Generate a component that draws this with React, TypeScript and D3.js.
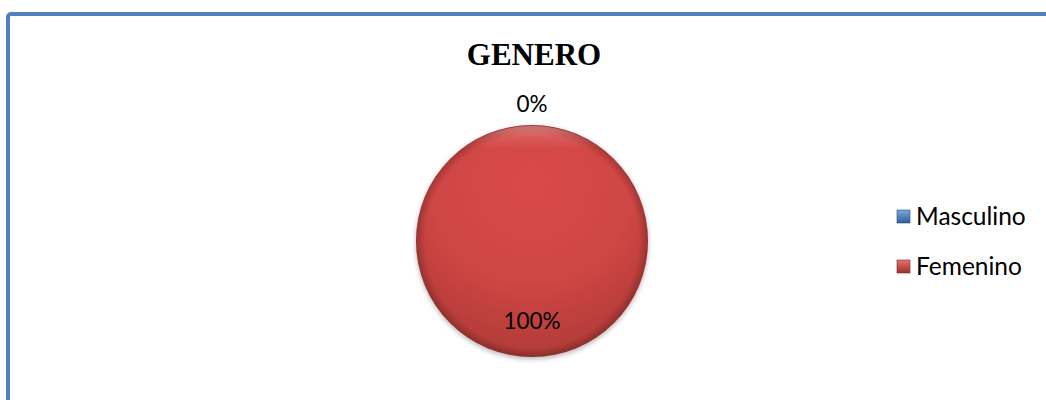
import React, { useEffect, useRef } from 'react'
import * as d3 from 'd3'

const categories = ['Masculino', 'Femenino']
const values = [0, 100]
const labels = ['0%', '100%']
const colors = ['#4f81bd', '#c0504d']

export default function App() {
  const svgRef = useRef<SVGSVGElement>(null)

  useEffect(() => {
    const svg = d3.select(svgRef.current)
    svg.selectAll('*').remove()

    const width = 1046
    const height = 400
    const cx = 532
    const cy = 241
    const r = 116

    const defs = svg.append('defs')

    // bevel look for the slices (coords are in the pie group's space)
    const grad = defs.append('radialGradient')
      .attr('id', 'pieFill')
      .attr('gradientUnits', 'userSpaceOnUse')
      .attr('cx', 0).attr('cy', -60).attr('r', r * 1.6)
    grad.append('stop').attr('offset', '0%').attr('stop-color', '#d94a48')
    grad.append('stop').attr('offset', '55%').attr('stop-color', '#cf4644')
    grad.append('stop').attr('offset', '100%').attr('stop-color', '#ad3936')

    const rim = defs.append('radialGradient')
      .attr('id', 'rim')
      .attr('gradientUnits', 'userSpaceOnUse')
      .attr('cx', 0).attr('cy', 0).attr('r', r)
    rim.append('stop').attr('offset', '92%').attr('stop-color', '#000').attr('stop-opacity', 0)
    rim.append('stop').attr('offset', '100%').attr('stop-color', '#000').attr('stop-opacity', 0.22)

    const hl = defs.append('linearGradient')
      .attr('id', 'hl').attr('x1', 0).attr('y1', 0).attr('x2', 0).attr('y2', 1)
    hl.append('stop').attr('offset', '0%').attr('stop-color', '#fff').attr('stop-opacity', 0.3)
    hl.append('stop').attr('offset', '5%').attr('stop-color', '#fff').attr('stop-opacity', 0.1)
    hl.append('stop').attr('offset', '10%').attr('stop-color', '#fff').attr('stop-opacity', 0)

    const shadow = defs.append('filter').attr('id', 'shadow')
      .attr('x', '-20%').attr('y', '-20%').attr('width', '140%').attr('height', '140%')
    shadow.append('feDropShadow').attr('dx', 0).attr('dy', 2).attr('stdDeviation', 2.5)
      .attr('flood-color', '#000').attr('flood-opacity', 0.3)

    const legGradBlue = defs.append('linearGradient')
      .attr('id', 'legBlue').attr('x1', 0).attr('y1', 0).attr('x2', 0).attr('y2', 1)
    legGradBlue.append('stop').attr('offset', '0%').attr('stop-color', '#7aa6dc')
    legGradBlue.append('stop').attr('offset', '100%').attr('stop-color', '#2f5f9a')
    const legGradRed = defs.append('linearGradient')
      .attr('id', 'legRed').attr('x1', 0).attr('y1', 0).attr('x2', 0).attr('y2', 1)
    legGradRed.append('stop').attr('offset', '0%').attr('stop-color', '#e8716e')
    legGradRed.append('stop').attr('offset', '100%').attr('stop-color', '#9c302e')

    svg.append('rect').attr('width', width).attr('height', height).attr('fill', '#fff')

    // outer frame
    svg.append('rect')
      .attr('x', 8).attr('y', 14)
      .attr('width', width + 20).attr('height', height + 20)
      .attr('rx', 3)
      .attr('fill', 'none')
      .attr('stroke', '#4f81bd')
      .attr('stroke-width', 4)

    svg.append('text')
      .attr('x', 534).attr('y', 65)
      .attr('text-anchor', 'middle')
      .attr('font-family', '"Liberation Serif", "Times New Roman", serif')
      .attr('font-weight', 'bold')
      .attr('font-size', 31)
      .attr('fill', '#000')
      .text('GENERO')

    const pie = d3.pie<number>().sort(null).value(d => d)
    const arcs = pie(values)
    const arc = d3.arc<d3.PieArcDatum<number>>().innerRadius(0).outerRadius(r)

    const g = svg.append('g').attr('transform', `translate(${cx},${cy})`)

    g.selectAll('path.slice')
      .data(arcs.filter(d => d.endAngle > d.startAngle))
      .join('path')
      .attr('class', 'slice')
      .attr('d', arc)
      .attr('fill', d => d.index === 1 ? 'url(#pieFill)' : colors[d.index])
      .attr('filter', 'url(#shadow)')

    g.append('circle').attr('r', r).attr('fill', 'url(#rim)')
    g.append('circle').attr('r', r - 1).attr('fill', 'url(#hl)')

    const outerLabel = d3.arc<d3.PieArcDatum<number>>().innerRadius(r + 21).outerRadius(r + 21)
    const innerLabel = d3.arc<d3.PieArcDatum<number>>().innerRadius(r * 0.69).outerRadius(r * 0.69)

    g.selectAll('text.lbl')
      .data(arcs)
      .join('text')
      .attr('class', 'lbl')
      .attr('transform', d => {
        const p = d.value === 0 ? outerLabel.centroid(d) : innerLabel.centroid(d)
        return `translate(${p[0]},${p[1]})`
      })
      .attr('text-anchor', 'middle')
      .attr('dy', '0.35em')
      .attr('font-family', 'Lato, "Open Sans", sans-serif')
      .attr('font-size', 22.5)
      .attr('fill', '#000')
      .text((d, i) => labels[i])

    const legend = svg.append('g').attr('transform', 'translate(897,0)')
    const ly = d3.scaleOrdinal<string, number>().domain(categories).range([216, 266])

    const item = legend.selectAll('g')
      .data(categories)
      .join('g')
      .attr('transform', d => `translate(0,${ly(d)})`)

    item.append('rect')
      .attr('x', 0).attr('y', -6)
      .attr('width', 13).attr('height', 13)
      .attr('fill', (d, i) => i === 0 ? 'url(#legBlue)' : 'url(#legRed)')
      .attr('stroke', (d, i) => i === 0 ? '#2c4d75' : '#7a2624')
      .attr('stroke-width', 0.6)

    item.append('text')
      .attr('x', 19)
      .attr('dy', '0.36em')
      .attr('font-family', 'Lato, "Open Sans", sans-serif')
      .attr('font-size', 24.5)
      .attr('fill', '#000')
      .text(d => d)
  }, [])

  return (
    <svg
      ref={svgRef}
      width={1046}
      height={400}
      style={{ position: 'absolute', left: 0, top: 0 }}
    />
  )
}
